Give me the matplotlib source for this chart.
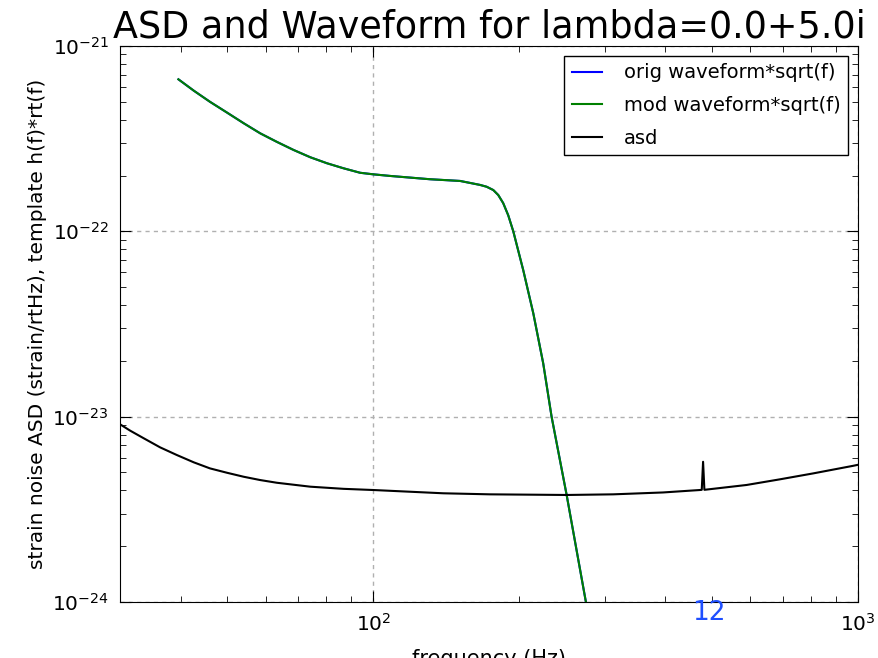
import matplotlib
matplotlib.use("Agg")
import matplotlib.pyplot as plt
import numpy as np

# waveform*sqrt(f) (orig and mod overlap)
wf_freq = [39.6, 42.6, 46.0, 49.9, 54.0, 58.4, 63.2, 68.4, 74.1, 80.2, 86.7, 93.9,
           100.0, 108.3, 130.9, 151.0, 166.0, 171.3, 176.8, 181.0, 185.3, 189.8,
           194.4, 203.8, 213.8, 224.1, 233.2, 250.5, 274.5, 290.0]
wf_orig = [6.61e-22, 5.74e-22, 5.00e-22, 4.37e-22, 3.83e-22, 3.38e-22, 3.04e-22,
           2.75e-22, 2.51e-22, 2.33e-22, 2.19e-22, 2.07e-22, 2.03e-22, 1.99e-22,
           1.91e-22, 1.87e-22, 1.78e-22, 1.74e-22, 1.67e-22, 1.57e-22, 1.42e-22,
           1.22e-22, 1.00e-22, 6.18e-23, 3.61e-23, 1.94e-23, 1.00e-23, 3.78e-24,
           1.00e-24, 4.6e-25]
wf_mod = list(wf_orig)

# detector asd
asd_freq = [30.0, 31.5, 33.6, 36.3, 39.3, 42.6, 46.0, 49.9, 54.0, 58.4, 63.2, 74.1,
            86.7, 100.0, 139.4, 174.0, 250.5, 312.5, 396.0, 471.6, 476.0, 479.0,
            482.0, 486.0, 589.0, 689.7, 807.6, 977.0, 1000.0]
asd_val = [9.10e-24, 8.40e-24, 7.64e-24, 6.83e-24, 6.21e-24, 5.67e-24, 5.26e-24,
           4.98e-24, 4.74e-24, 4.55e-24, 4.40e-24, 4.19e-24, 4.08e-24, 4.02e-24,
           3.86e-24, 3.81e-24, 3.78e-24, 3.81e-24, 3.90e-24, 4.02e-24, 4.03e-24,
           5.71e-24, 4.03e-24, 4.04e-24, 4.28e-24, 4.59e-24, 4.94e-24, 5.43e-24,
           5.50e-24]

fig = plt.figure(figsize=(8.79, 6.58), dpi=100)
ax = fig.add_axes([0.1365, 0.0851, 0.8396, 0.845])

ax.loglog(wf_freq, wf_orig, color='b', lw=1.5, label='orig waveform*sqrt(f)')
ax.loglog(wf_freq, wf_mod, color='g', lw=1.5, label='mod waveform*sqrt(f)')
ax.loglog(asd_freq, asd_val, color='k', lw=1.5, label='asd')

ax.set_xlim(30, 1000)
ax.set_ylim(1e-24, 1e-21)
ax.grid(True, which='major', color='#b0b0b0', linestyle=(0, (3, 3)), lw=1)
ax.tick_params(which='both', direction='in', top=True, right=True, labelsize=14.5, pad=8)
ax.tick_params(which='major', length=8)
ax.tick_params(which='minor', length=4)

ax.set_title('ASD and Waveform for lambda=0.0+5.0i', fontsize=26.3, pad=3)
ax.set_xlabel('frequency (Hz)', fontsize=15, labelpad=10)
ax.set_ylabel('strain noise ASD (strain/rtHz), template h(f)*rt(f)', fontsize=14.5)

leg = ax.legend(loc='upper right', fontsize=14, fancybox=False, framealpha=1,
                edgecolor='k', handlelength=1.55, handletextpad=1.1,
                borderaxespad=0.5, labelspacing=0.7)
leg.get_frame().set_linewidth(1)

fig.text(0.806, 0.057, '12', color='#1f4fff', fontsize=19, ha='center')

fig.savefig('out.png', dpi=100)
